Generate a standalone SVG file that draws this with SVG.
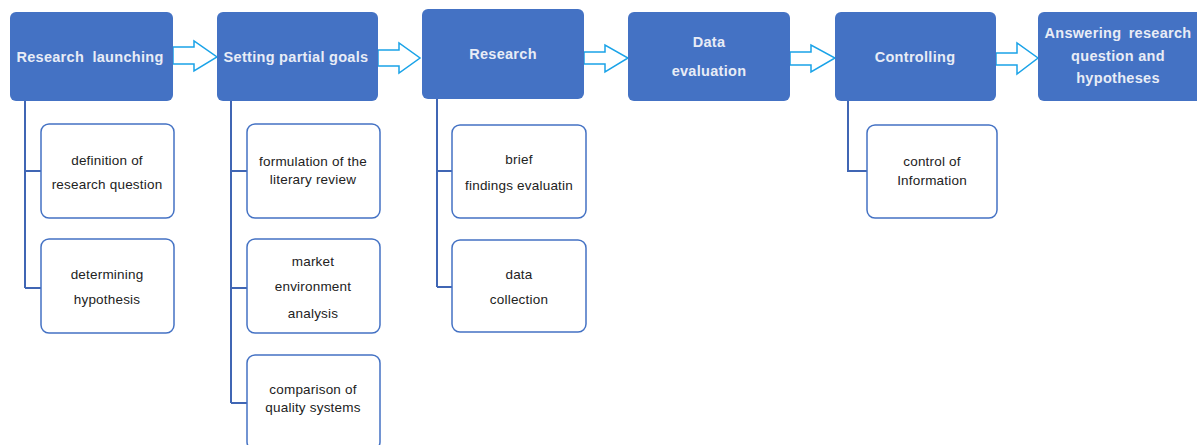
<svg xmlns="http://www.w3.org/2000/svg" width="1197" height="445" viewBox="0 0 1197 445">
<style>
.main{fill:#4472c4;}
.sub{fill:#fff;stroke:#4472c4;stroke-width:1.5;}
.mt{font-family:"Liberation Sans",Arial,sans-serif;font-size:14.5px;fill:#e8ecf6;text-anchor:middle;font-weight:bold;letter-spacing:0.3px;}
.st{font-family:"Liberation Sans",Arial,sans-serif;font-size:13.5px;fill:#222;text-anchor:middle;letter-spacing:0.2px;}
.arr{fill:#fff;stroke:#1aa3e8;stroke-width:1.5;stroke-linejoin:miter;}
.ln{fill:none;stroke:#4066b4;stroke-width:2;}
</style>
<rect width="1197" height="445" fill="#fff"/>
<g id="connectors">
<path class="arr" d="M173,47 H194 V41 L217,57 L194,71 V64 H173 Z"/>
<path class="arr" d="M378,50 H399 V43 L420,58 L399,73 V66 H378 Z"/>
<path class="arr" d="M584,52 H605 V45 L628,58 L605,72 V64 H584 Z"/>
<path class="arr" d="M790,52 H811 V45 L835,58 L811,72 V65 H790 Z"/>
<path class="arr" d="M996,53 H1017 V43 L1038,58 L1017,74 V65 H996 Z"/>
<path class="ln" d="M25,101 V288 M25,171 H41 M25,288 H41"/>
<path class="ln" d="M231,101 V403 M231,171 H247 M231,288 H247 M231,403 H247"/>
<path class="ln" d="M437,99 V287 M437,171 H452 M437,287 H452"/>
<path class="ln" d="M848,101 V171 H867"/>
</g>
<g id="n1"><rect class="main" x="10" y="12" width="163" height="89" rx="6"/><text class="mt" x="90" y="62" word-spacing="4">Research launching</text></g>
<g id="n2"><rect class="main" x="217" y="12" width="161" height="89" rx="6"/><text class="mt" x="296" y="62">Setting partial goals</text></g>
<g id="n3"><rect class="main" x="422" y="9" width="162" height="90" rx="6"/><text class="mt" x="503" y="59">Research</text></g>
<g id="n4"><rect class="main" x="628" y="12" width="162" height="89" rx="6"/><text class="mt" x="709" y="47">Data</text><text class="mt" x="709" y="76">evaluation</text></g>
<g id="n5"><rect class="main" x="835" y="12" width="161" height="89" rx="6"/><text class="mt" x="915" y="62">Controlling</text></g>
<g id="n6"><rect class="main" x="1038" y="12" width="164" height="89" rx="6"/><text class="mt" x="1118" y="38" word-spacing="3">Answering research</text><text class="mt" x="1118" y="61">question and</text><text class="mt" x="1118" y="83">hypotheses</text></g>
<g id="s1a"><rect class="sub" x="41" y="124" width="133" height="94" rx="8"/><text class="st" x="107" y="165">definition of</text><text class="st" x="107" y="189">research question</text></g>
<g id="s1b"><rect class="sub" x="41" y="239" width="133" height="94" rx="8"/><text class="st" x="107" y="279">determining</text><text class="st" x="107" y="304">hypothesis</text></g>
<g id="s2a"><rect class="sub" x="247" y="124" width="133" height="94" rx="8"/><text class="st" x="313" y="166">formulation of the</text><text class="st" x="313" y="184">literary review</text></g>
<g id="s2b"><rect class="sub" x="247" y="239" width="133" height="94" rx="8"/><text class="st" x="313" y="266">market</text><text class="st" x="313" y="291">environment</text><text class="st" x="313" y="318">analysis</text></g>
<g id="s2c"><rect class="sub" x="247" y="355" width="133" height="95" rx="8"/><text class="st" x="313" y="394">comparison of</text><text class="st" x="313" y="412">quality systems</text></g>
<g id="s3a"><rect class="sub" x="452" y="125" width="134" height="93" rx="8"/><text class="st" x="519" y="164">brief</text><text class="st" x="519" y="190">findings evaluatin</text></g>
<g id="s3b"><rect class="sub" x="452" y="240" width="134" height="92" rx="8"/><text class="st" x="519" y="279">data</text><text class="st" x="519" y="304">collection</text></g>
<g id="s4a"><rect class="sub" x="867" y="125" width="130" height="93" rx="8"/><text class="st" x="932" y="166">control of</text><text class="st" x="932" y="185">Information</text></g>
</svg>
